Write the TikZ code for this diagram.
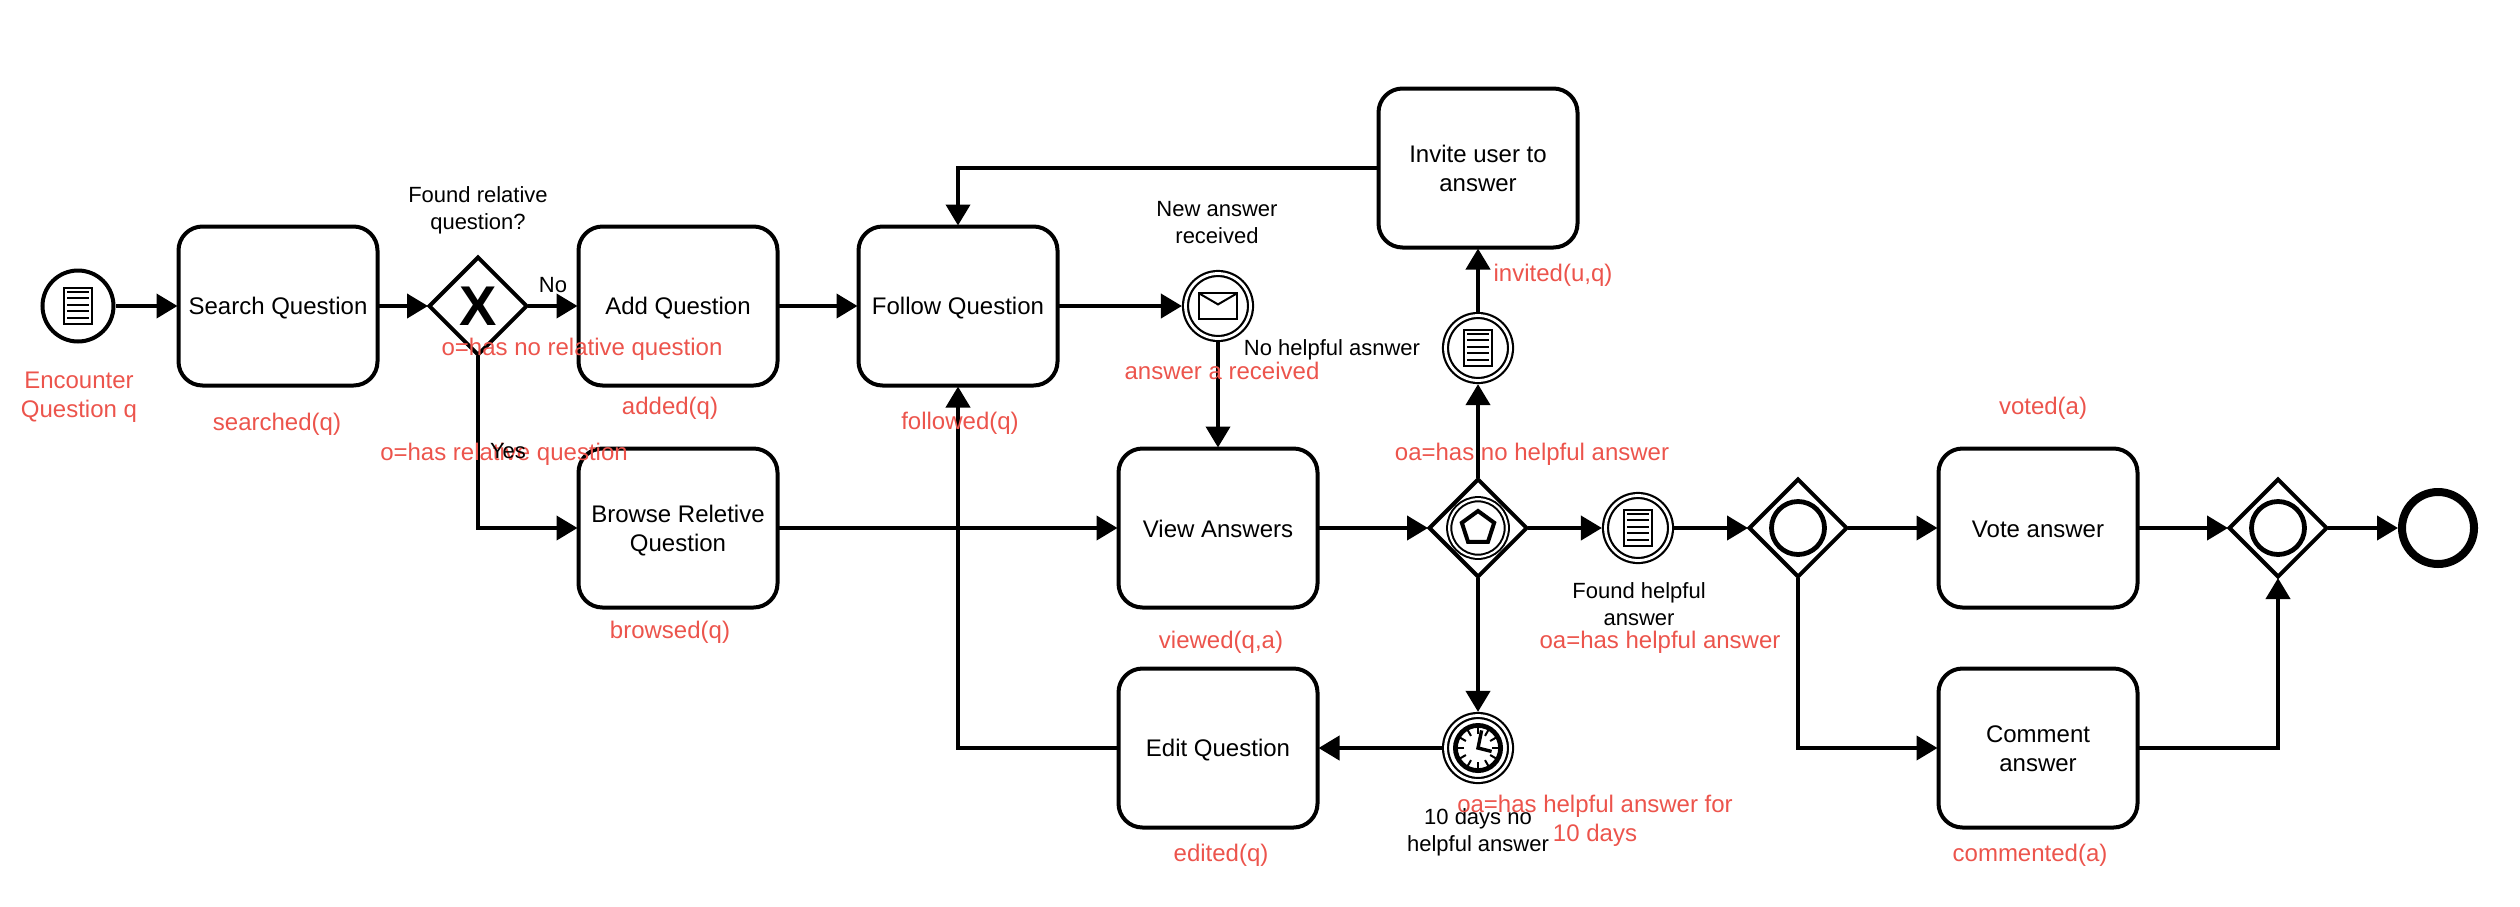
\documentclass[tikz,border=0pt]{standalone}
\usepackage{fontspec}
\setmainfont{Liberation Sans}
\usetikzlibrary{arrows.meta}
\usetikzlibrary{shapes.geometric}
\definecolor{redlabel}{HTML}{EC544C}
\newcommand{\textstrut}{\rule[-2pt]{0pt}{13.2pt}}
\tikzset{
  every node/.style={align=center, inner sep=0pt},
  struttext/.style={execute at begin node=\textstrut, execute at end node=\textstrut},
  twolines/.style={text height=23pt, text depth=0pt},
  twolinesmall/.style={text height=21.4pt, text depth=0pt},
  taskbox/.style={draw, line width=2pt, rounded corners=12pt, minimum width=99.5pt, minimum height=79.5pt, outer sep=0.5pt, font=\fontsize{12}{14.5}\selectfont, struttext},
  gateway/.style={draw, diamond, aspect=1, line width=2pt, minimum size=49pt, outer sep=0.5pt},
  startevent/.style={draw, circle, line width=2pt, minimum size=35.5pt},
  midevent/.style={draw, circle, line width=1.1pt, double, double distance=1.4pt, minimum size=32.5pt, outer sep=1.8pt},
  endevent/.style={draw, circle, line width=4pt, minimum size=36pt},
  ringmark/.style={draw, circle, line width=2.4pt, minimum size=26.5pt},
  flow/.style={line width=2pt, -{Triangle[length=10.5pt,width=12pt]}},
  blacklabel/.style={font=\fontsize{11}{13.5}\selectfont, struttext},
  redlabelnode/.style={text=redlabel, font=\fontsize{12}{14.5}\selectfont, struttext},
  docicon/.pic={
    \draw[line width=1pt] (-7.2,-9) rectangle (7.2,9);
    \foreach \yy in {-7,-3.8,-0.6,2.6,5.8}
      \draw[line width=1pt] (-5.6,\yy) -- (5.6,\yy);
  },
  clockicon/.pic={
    \draw[line width=2.4pt] (0,0) circle (11.3);
    \foreach \aa in {0,30,...,330}
      \draw[line width=1pt] (\aa:7) -- (\aa:10.5);
    \draw[line width=1.7pt] (1.8,-8.8) -- (0,0) -- (6.8,1.7);
  },
  mailicon/.pic={
    \draw[line width=1pt] (-9.6,-6.4) rectangle (9.6,6.4);
    \draw[line width=1pt] (-9.6,-6.4) -- (0,-0.8) -- (9.6,-6.4);
  }
}

\begin{document}
\begin{tikzpicture}[x=1pt, y=-1pt]
    \useasboundingbox (0,0) rectangle (1260,453);

    \node[startevent] (encounter) at (39,153) {};
    \node[taskbox] (search) at (139,153) {Search Question};
    \node[gateway, font=\fontsize{28}{28}\selectfont\bfseries] (found) at (239,153) {X};
    \node[taskbox] (add) at (339,153) {Add Question};
    \node[taskbox, twolines] (browse) at (339,264) {Browse Reletive\\Question};
    \node[taskbox] (follow) at (479,153) {Follow Question};
    \node[midevent] (newanswer) at (609,153) {};
    \node[taskbox, twolines] (invite) at (739,84) {Invite user to\\answer};
    \node[midevent] (nohelpful) at (739,174) {};
    \node[taskbox] (view) at (609,264) {View Answers};
    \node[gateway] (evgate) at (739,264) {};
    \node[midevent, line width=1pt, double distance=1.1pt, minimum size=28.8pt] (evring) at (739,264) {};
    \node[draw, regular polygon, regular polygon sides=5, line width=2pt, minimum size=17pt] (evpenta) at (739,264) {};
    \node[midevent] (helpful) at (819,264) {};
    \node[gateway] (split) at (899,264) {};
    \node[ringmark] (splitring) at (899,264) {};
    \node[taskbox] (vote) at (1019,264) {Vote answer};
    \node[taskbox, twolines] (comment) at (1019,374) {Comment\\answer};
    \node[gateway] (merge) at (1139,264) {};
    \node[ringmark] (mergering) at (1139,264) {};
    \node[endevent] (finish) at (1219,264) {};
    \node[taskbox] (edit) at (609,374) {Edit Question};
    \node[midevent] (timer) at (739,374) {};

    \pic at (encounter) {docicon};
    \pic at (nohelpful) {docicon};
    \pic at (helpful) {docicon};
    \pic at (newanswer) {mailicon};
    \pic at (timer) {clockicon};

    \draw[flow] (encounter) -- (search);
    \draw[flow] (search) -- (found);
    \draw[flow] (found) -- (add);
    \draw[flow] (found.south) |- (browse.west);
    \draw[flow] (add) -- (follow);
    \draw[flow] (browse) -- (view);
    \draw[flow] (follow) -- (newanswer);
    \draw[flow] (newanswer) -- (view);
    \draw[flow] (view) -- (evgate);
    \draw[flow] (evgate) -- (nohelpful);
    \draw[flow] (nohelpful) -- (invite);
    \draw[flow] (invite.west) -| (follow.north);
    \draw[flow] (evgate) -- (helpful);
    \draw[flow] (helpful) -- (split);
    \draw[flow] (split) -- (vote);
    \draw[flow] (vote) -- (merge);
    \draw[flow] (merge) -- (finish);
    \draw[flow] (split.south) |- (comment.west);
    \draw[flow] (comment.east) -| (merge.south);
    \draw[flow] (evgate) -- (timer);
    \draw[flow] (timer) -- (edit);
    \draw[flow] (edit.west) -| (follow.south);

    \node[blacklabel, twolinesmall] (foundtext) at (239,104) {Found relative\\question?};
    \node[blacklabel] (notext) at (276.5,141.5) {No};
    \node[blacklabel, twolinesmall] (newanswertext) at (608.5,111) {New answer\\received};
    \node[blacklabel] (nohelpfultext) at (666,173.5) {No helpful asnwer};
    \node[blacklabel, twolinesmall] (helpfultext) at (819.5,302) {Found helpful\\answer};
    \node[blacklabel, twolinesmall] (timertext) at (739,415) {10 days no\\helpful answer};

    \node[redlabelnode, twolines] (encounterlabel) at (39.5,197) {Encounter\\Question q};
    \node[redlabelnode] (searchlabel) at (138.5,211) {searched(q)};
    \node[redlabelnode] (nolabel) at (291,173.5) {o=has no relative question};
    \node[redlabelnode] (yeslabel) at (252,226) {o=has relative question};
    \node[redlabelnode] (addlabel) at (335,203) {added(q)};
    \node[redlabelnode] (browselabel) at (335,315) {browsed(q)};
    \node[redlabelnode] (followlabel) at (480,210.5) {followed(q)};
    \node[redlabelnode] (answerlabel) at (611,185) {answer a received};
    \node[redlabelnode] (invitelabel) at (776.5,136.5) {invited(u,q)};
    \node[redlabelnode] (nohelpfullabel) at (766,226) {oa=has no helpful answer};
    \node[redlabelnode] (viewlabel) at (610.5,320) {viewed(q,a)};
    \node[redlabelnode] (helpfullabel) at (830,320) {oa=has helpful answer};
    \node[redlabelnode] (editlabel) at (610.5,426.5) {edited(q)};
    \node[redlabelnode, twolines] (timerlabel) at (797.5,409) {oa=has helpful answer for\\10 days};
    \node[redlabelnode] (votelabel) at (1021.5,203) {voted(a)};
    \node[redlabelnode] (commentlabel) at (1015,426.5) {commented(a)};

    \node[blacklabel] (yestext) at (254,224.5) {Yes};
\end{tikzpicture}
\end{document}
